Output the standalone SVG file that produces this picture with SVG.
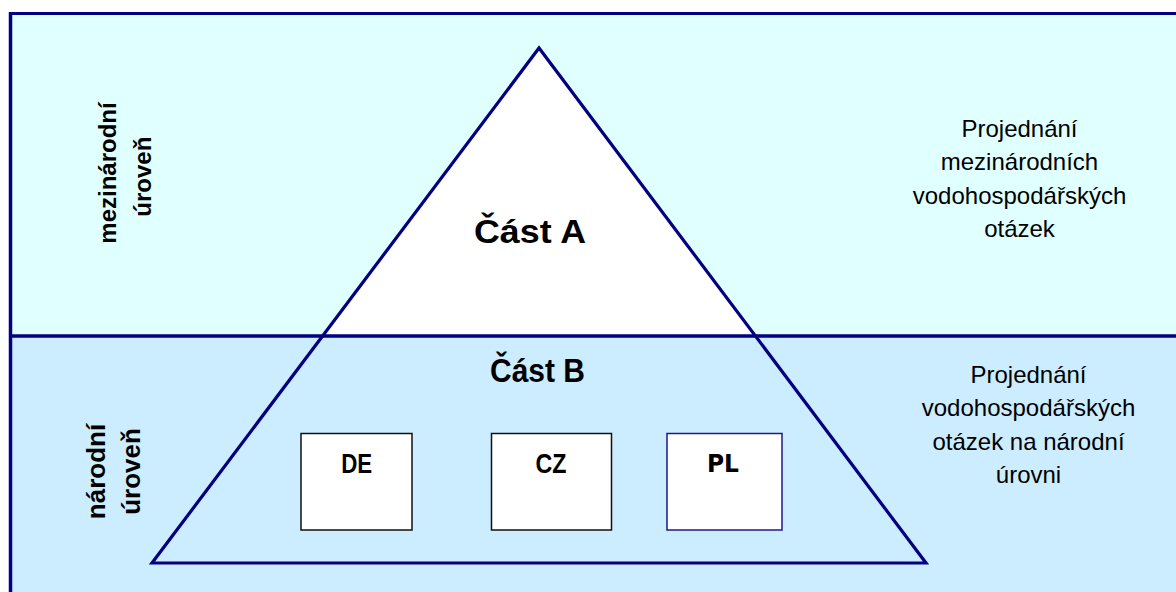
<svg xmlns="http://www.w3.org/2000/svg" width="1176" height="592" viewBox="0 0 1176 592">
<style>
.ln{stroke:#000080;fill:none}
.b{font-family:"Liberation Sans",Arial,sans-serif;font-weight:bold;fill:#000}
.r{font-family:"Liberation Sans",Arial,sans-serif;font-size:24px;fill:#000;text-anchor:middle}
.box{fill:#fff;stroke:#111;stroke-width:1.5}
</style>
<rect width="1176" height="592" fill="#fff"/>
<g id="upper-level">
<rect x="10" y="13" width="1166" height="323" fill="#E0FFFF"/>
</g>
<g id="lower-level">
<rect x="10" y="336" width="1166" height="256" fill="#CCECFF"/>
</g>
<g id="triangle">
<polygon points="539,48 322.6,336 755.4,336" fill="#fff"/>
<polygon class="ln" points="539,48 152,563 926,563" stroke-width="3.2" stroke-linejoin="miter"/>
</g>
<g id="frame">
<line class="ln" x1="10.5" y1="12" x2="10.5" y2="592" stroke-width="3.5"/>
<line class="ln" x1="9" y1="13.5" x2="1176" y2="13.5" stroke-width="3.2"/>
<line class="ln" x1="10" y1="336" x2="1176" y2="336" stroke-width="3.5"/>
</g>
<g id="label-international">
<text class="b" font-size="24" text-anchor="middle" transform="translate(116,173) rotate(-90)">mezinárodní</text>
<text class="b" font-size="24" text-anchor="middle" transform="translate(150.5,176.7) rotate(-90)">úroveň</text>
</g>
<g id="label-national">
<text class="b" font-size="26" text-anchor="middle" transform="translate(105,471.5) rotate(-90)">národní</text>
<text class="b" font-size="26" text-anchor="middle" transform="translate(140,471.5) rotate(-90)">úroveň</text>
</g>
<g id="part-a">
<text class="b" font-size="34" text-anchor="middle" x="530" y="243" textLength="112" lengthAdjust="spacingAndGlyphs">Část A</text>
</g>
<g id="part-b">
<text class="b" font-size="34" text-anchor="middle" x="537.5" y="381.7" textLength="95" lengthAdjust="spacingAndGlyphs">Část B</text>
</g>
<g id="node-de">
<rect class="box" x="301" y="433.5" width="111" height="96.5"/>
<text class="b" font-size="28" text-anchor="middle" x="356.7" y="472.7" textLength="31" lengthAdjust="spacingAndGlyphs">DE</text>
</g>
<g id="node-cz">
<rect class="box" x="491.5" y="433.5" width="120" height="96.5"/>
<text class="b" font-size="28" text-anchor="middle" x="551" y="472.7" textLength="31" lengthAdjust="spacingAndGlyphs">CZ</text>
</g>
<g id="node-pl">
<rect x="667" y="433.5" width="115" height="96.5" fill="#fff" stroke="#1a1a8c" stroke-width="1.5"/>
<text font-family="'DejaVu Sans',Verdana,sans-serif" font-weight="bold" font-size="25" text-anchor="middle" x="723" y="472" textLength="32" lengthAdjust="spacingAndGlyphs">PL</text>
</g>
<g id="desc-international">
<text class="r" x="1019.5" y="136.5">Projednání</text>
<text class="r" x="1019.5" y="170">mezinárodních</text>
<text class="r" x="1019.5" y="203.5">vodohospodářských</text>
<text class="r" x="1019.5" y="237">otázek</text>
</g>
<g id="desc-national">
<text class="r" x="1028.5" y="382.7">Projednání</text>
<text class="r" x="1028.5" y="416">vodohospodářských</text>
<text class="r" x="1028.5" y="449.5">otázek na národní</text>
<text class="r" x="1028.5" y="483">úrovni</text>
</g>
</svg>
